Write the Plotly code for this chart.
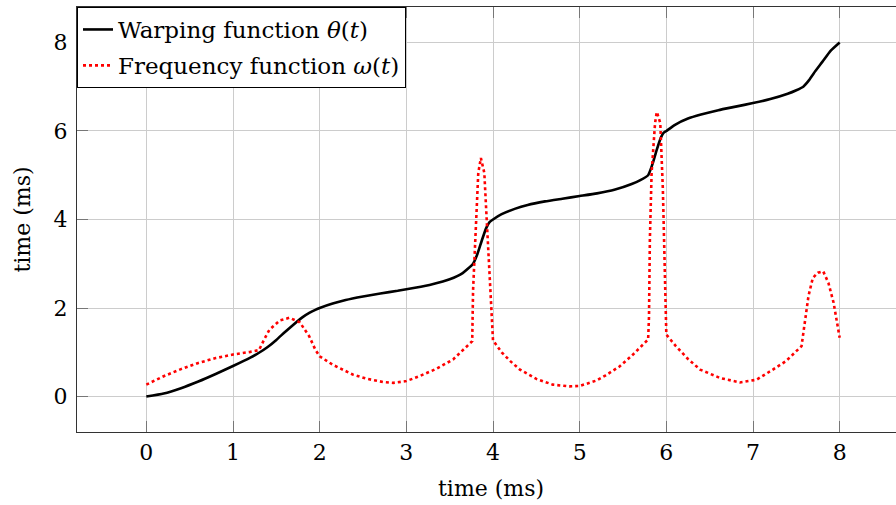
import plotly.graph_objects as go

# Warping function theta(t)
theta_t = [0, 0.2, 0.4, 0.6, 0.8, 1.0, 1.2, 1.3, 1.4, 1.5, 1.6, 1.7, 1.8, 1.88, 1.95, 2.0,
           2.15, 2.3, 2.5, 2.7, 2.9, 3.1, 3.3, 3.5, 3.65, 3.77, 3.82, 3.87, 3.92, 3.96, 4.0,
           4.1, 4.25, 4.4, 4.6, 4.8, 5.0, 5.2, 5.4, 5.6, 5.7, 5.79, 5.84, 5.89, 5.94, 5.97, 6.0,
           6.1, 6.25, 6.4, 6.6, 6.8, 7.0, 7.2, 7.4, 7.5, 7.58, 7.64, 7.7, 7.8, 7.9, 8.0]
theta_v = [0, 0.07, 0.19, 0.34, 0.51, 0.69, 0.88, 0.99, 1.12, 1.28, 1.46, 1.63, 1.79, 1.89, 1.96, 2.0,
           2.10, 2.18, 2.26, 2.33, 2.39, 2.46, 2.54, 2.65, 2.79, 3.0, 3.22, 3.52, 3.8, 3.94, 4.0,
           4.12, 4.24, 4.33, 4.41, 4.47, 4.53, 4.59, 4.67, 4.80, 4.89, 5.0, 5.25, 5.58, 5.86, 5.96, 6.0,
           6.14, 6.28, 6.37, 6.47, 6.55, 6.63, 6.72, 6.84, 6.92, 7.0, 7.13, 7.3, 7.56, 7.82, 8.0]

# Frequency function omega(t)
omega_t = [0, 0.2, 0.4, 0.6, 0.8, 1.0, 1.2, 1.3, 1.36, 1.42, 1.54, 1.65, 1.77, 1.88, 1.95, 2.0,
           2.15, 2.38, 2.55, 2.73, 2.85, 3.0, 3.15, 3.35, 3.54, 3.73, 3.76, 3.77, 3.80, 3.83, 3.86,
           3.90, 3.93, 3.96, 3.99, 4.0, 4.1, 4.2, 4.31, 4.5, 4.69, 4.88, 5.0, 5.19, 5.3, 5.46, 5.6,
           5.72, 5.79, 5.80, 5.81, 5.83, 5.87, 5.89, 5.93, 5.96, 5.98, 6.0, 6.11, 6.25, 6.39, 6.62,
           6.85, 7.04, 7.23, 7.38, 7.56, 7.60, 7.64, 7.69, 7.75, 7.81, 7.87, 7.93, 7.97, 8.0]
omega_v = [0.27, 0.46, 0.62, 0.76, 0.87, 0.95, 1.01, 1.05, 1.29, 1.51, 1.72, 1.78, 1.68, 1.36, 1.06, 0.91,
           0.72, 0.50, 0.40, 0.33, 0.31, 0.35, 0.46, 0.63, 0.84, 1.18, 1.25, 2.4, 3.9, 5.05, 5.39,
           5.05, 3.9, 2.8, 1.4, 1.27, 1.0, 0.8, 0.61, 0.40, 0.27, 0.23, 0.24, 0.36, 0.48, 0.68, 0.92,
           1.15, 1.29, 1.8, 3.55, 5.05, 6.18, 6.43, 6.18, 4.68, 3.17, 1.40, 1.14, 0.85, 0.61, 0.42,
           0.32, 0.38, 0.61, 0.80, 1.14, 1.66, 2.27, 2.68, 2.80, 2.83, 2.57, 2.12, 1.7, 1.33]

x_ticks = [0, 1, 2, 3, 4, 5, 6, 7, 8]
y_ticks = [0, 2, 4, 6, 8]

FONT = "DejaVu Serif"
FS = 22

fig = go.Figure()
fig.add_trace(go.Scatter(
    x=theta_t, y=theta_v, mode="lines",
    line=dict(color="black", width=2.6, shape="spline", smoothing=0.5),
    name="Warping function <i>θ</i>(<i>t</i>)", legendgroup="a"))
fig.add_trace(go.Scatter(
    x=omega_t, y=omega_v, mode="lines",
    line=dict(color="#ff0000", width=2.6, dash="dot"),
    name="Frequency function <i>ω</i>(<i>t</i>)", legendgroup="b"))

plot_h = 505 - 7 - 73

fig.update_layout(
    width=896, height=505,
    margin=dict(l=77, r=0, t=7, b=73),
    paper_bgcolor="white", plot_bgcolor="white",
    font=dict(family=FONT, size=FS, color="black"),
    showlegend=True,
    legend=dict(x=0, y=1, xanchor="left", yanchor="top",
                bgcolor="white", bordercolor="black", borderwidth=1,
                font=dict(family=FONT, size=23), tracegroupgap=3,
                itemwidth=30),
    annotations=[
        dict(text="time (ms)", x=3.98, xref="x", y=(505 - 73 - 489) / plot_h, yref="paper",
             showarrow=False, font=dict(family=FONT, size=FS), yanchor="middle"),
    ],
)

fig.update_xaxes(
    range=[-0.8, 8.65], tickvals=x_ticks, ticktext=[str(v) for v in x_ticks],
    showgrid=True, gridcolor="#cccccc", gridwidth=1,
    showline=True, linecolor="#333333", linewidth=1.3, mirror="ticks",
    ticks="inside", ticklen=11, tickcolor="#777777", tickwidth=1.3,
    zeroline=False, ticklabelstandoff=0,
    tickfont=dict(family=FONT, size=FS),
)
fig.update_yaxes(
    range=[-0.8, 8.8], tickvals=y_ticks, ticktext=[str(v) for v in y_ticks],
    showgrid=True, gridcolor="#cccccc", gridwidth=1,
    showline=True, linecolor="#333333", linewidth=1.3, mirror=False,
    ticks="inside", ticklen=11, tickcolor="#777777", tickwidth=1.3,
    zeroline=False, ticklabelstandoff=4,
    tickfont=dict(family=FONT, size=FS),
    title=dict(text="time (ms)", font=dict(family=FONT, size=FS), standoff=16),
)

fig.write_html("out.html")
